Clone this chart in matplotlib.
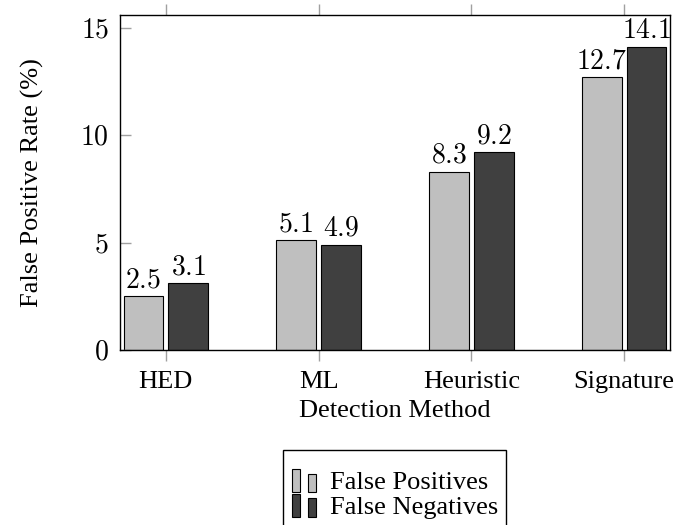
import matplotlib
matplotlib.use("Agg")
import matplotlib.pyplot as plt
from matplotlib.patches import Rectangle
from matplotlib.legend_handler import HandlerBase
import numpy as np

# data
methods = ['HED', 'ML', 'Heuristic', 'Signature']
false_pos = [2.5, 5.1, 8.3, 12.7]
false_neg = [3.1, 4.9, 9.2, 14.1]
series_names = ['False Positives', 'False Negatives']
yticks = [0, 5, 10, 15]

light = '#bfbfbf'
dark = '#404040'

plt.rcParams['font.family'] = ['Liberation Serif', 'DejaVu Serif']
plt.rcParams['mathtext.fontset'] = 'cm'

fs_text = 19
fs_num = 20


class TwoBars(HandlerBase):
    # pgfplots style ybar legend: two little bars
    def create_artists(self, legend, orig_handle, xdescent, ydescent,
                       width, height, fontsize, trans):
        fc = orig_handle.patches[0].get_facecolor()
        w = width * 0.3
        r1 = Rectangle((-xdescent, -ydescent - 2), w, height * 1.25,
                       facecolor=fc, edgecolor='black', lw=0.8, transform=trans)
        r2 = Rectangle((-xdescent + width * 0.62, -ydescent - 2), w, height * 1.0,
                       facecolor=fc, edgecolor='black', lw=0.8, transform=trans)
        return [r1, r2]


fig = plt.figure(figsize=(6.88, 5.25), dpi=100)
ax = fig.add_axes([120 / 688, 1 - 350 / 525, 550 / 688, 335 / 525])

x = np.arange(len(methods))
bw = 0.26
off = 0.147
b1 = ax.bar(x - off, false_pos, bw, color=light, edgecolor='black', lw=0.8,
            label=series_names[0])
b2 = ax.bar(x + off, false_neg, bw, color=dark, edgecolor='black', lw=0.8,
            label=series_names[1])

for bars, vals in ((b1, false_pos), (b2, false_neg)):
    for rect, v in zip(bars, vals):
        ax.annotate(r'$%.1f$' % v, (rect.get_x() + rect.get_width() / 2, v),
                    xytext=(0, 2), textcoords='offset points',
                    ha='center', va='bottom', fontsize=fs_num)

ax.set_xlim(-0.3, 3.3)
ax.set_ylim(0, 15.6)
ax.set_xticks(x)
ax.set_xticklabels(methods, fontsize=fs_text)
ax.set_yticks(yticks)
ax.set_yticklabels([r'$%d$' % t for t in yticks], fontsize=fs_num)

ax.tick_params(axis='x', direction='out', length=8, width=1, color='#a0a0a0',
               top=True, bottom=True, pad=7)
ax.tick_params(axis='y', direction='in', length=8, width=1, color='#a0a0a0',
               left=True, right=False, pad=8)
for s in ax.spines.values():
    s.set_linewidth(1)

ax.set_xlabel('Detection Method', fontsize=fs_text, labelpad=5)
ax.set_ylabel('False Positive Rate (%)', fontsize=fs_text, labelpad=26)

# legend without its own frame; the box is drawn separately so it can run
# off the bottom edge like in the original
leg = fig.legend(handles=[b1, b2], loc='upper center',
                 bbox_to_anchor=(395 / 688, 1 - 459 / 525),
                 handler_map={b1: TwoBars(), b2: TwoBars()},
                 fontsize=fs_text, frameon=False,
                 handlelength=1.0, handletextpad=0.45,
                 labelspacing=0.05, borderpad=0.45, borderaxespad=0)
box = Rectangle((283 / 688, -0.05), 223 / 688, 0.05 + 75 / 525,
                transform=fig.transFigure, fill=False, edgecolor='black',
                lw=1)
fig.patches.append(box)

fig.savefig('out.png', dpi=100)
